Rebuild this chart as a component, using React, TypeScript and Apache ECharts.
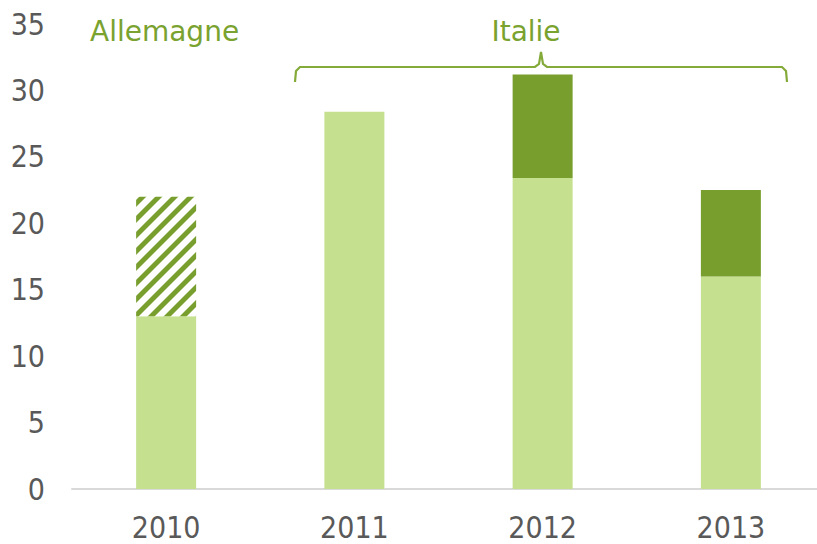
import React, { useEffect, useRef } from "react";
import * as echarts from "echarts";

const categories = ["2010", "2011", "2012", "2013"];
const baseValues = [13.0, 28.4, 23.4, 16.0];
const hatchedValues: (number | string)[] = [9.0, "-", "-", "-"];
const darkValues: (number | string)[] = ["-", "-", 7.8, 6.5];
const yTicks = { min: 0, max: 35, interval: 5 };
const groupLabels = ["Allemagne", "Italie"];

const LIGHT = "#c5e08f";
const DARK = "#789e2d";
const TEXT_GREEN = "#7aa22f";

function makePattern() {
  const size = 16;
  const a = 7;
  const c = document.createElement("canvas");
  c.width = size;
  c.height = size;
  const ctx = c.getContext("2d")!;
  ctx.fillStyle = "#ffffff";
  ctx.fillRect(0, 0, size, size);
  ctx.fillStyle = DARK;
  for (let k = -1; k <= 1; k++) {
    const o = k * size;
    ctx.beginPath();
    ctx.moveTo(o, size);
    ctx.lineTo(o + a, size);
    ctx.lineTo(o + size + a, 0);
    ctx.lineTo(o + size, 0);
    ctx.closePath();
    ctx.fill();
  }
  return c;
}

export default function App() {
  const ref = useRef<HTMLDivElement>(null);
  useEffect(() => {
    if (!ref.current) return;
    const chart = echarts.init(ref.current, null, { renderer: "svg" });
    const pat = makePattern();
    const font = "'DejaVu Sans Condensed', 'DejaVu Sans', sans-serif";
    chart.setOption({
      animation: false,
      grid: { left: 72, top: 24, width: 753, height: 465 },
      xAxis: {
        type: "category",
        data: categories,
        axisLine: { show: true, lineStyle: { color: "#d9d9d9", width: 2 } },
        axisTick: { show: false },
        axisLabel: { color: "#595959", fontSize: 30, fontFamily: font, margin: 23 },
      },
      yAxis: {
        type: "value",
        min: yTicks.min,
        max: yTicks.max,
        interval: yTicks.interval,
        splitLine: { show: false },
        axisLine: { show: false },
        axisTick: { show: false },
        axisLabel: { color: "#595959", fontSize: 30, fontFamily: font, margin: 27 },
      },
      series: [
        {
          type: "bar",
          stack: "s",
          data: baseValues,
          barWidth: 60,
          itemStyle: { color: LIGHT },
        },
        {
          type: "bar",
          stack: "s",
          data: hatchedValues,
          barWidth: 60,
          itemStyle: {
            color: { image: pat, repeat: "repeat", imageWidth: 16, imageHeight: 16 },
          },
        },
        {
          type: "bar",
          stack: "s",
          data: darkValues,
          barWidth: 60,
          itemStyle: { color: DARK },
        },
      ],
      graphic: [
        {
          type: "text",
          left: 90,
          top: 17,
          style: {
            text: groupLabels[0],
            fill: TEXT_GREEN,
            font: "28px 'DejaVu Sans', sans-serif",
          },
        },
        {
          type: "text",
          x: 526,
          y: 17,
          style: {
            text: groupLabels[1],
            fill: TEXT_GREEN,
            font: "28px 'DejaVu Sans', sans-serif",
            align: "center",
          },
        },
        {
          type: "polyline",
          shape: {
            points: [
              [295, 82],
              [296, 71],
              [300, 67],
              [535, 67],
              [539, 64],
              [541, 52],
              [543, 64],
              [547, 67],
              [782, 67],
              [786, 71],
              [787, 82],
            ],
          },
          style: { stroke: "#84aa3a", lineWidth: 2.2, fill: null },
        },
      ],
    });
    return () => chart.dispose();
  }, []);
  return (
    <div
      style={{
        position: "absolute",
        left: 0,
        top: 0,
        width: 817,
        height: 544,
        overflow: "hidden",
      }}
    >
      <div ref={ref} style={{ width: 840, height: 544 }} />
    </div>
  );
}
